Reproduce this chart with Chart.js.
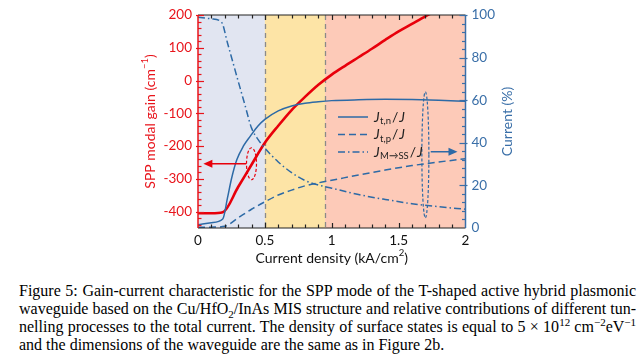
<!DOCTYPE html>
<html>
<head>
<meta charset="utf-8">
<script src="https://cdn.jsdelivr.net/npm/chart.js@4/dist/chart.umd.min.js"></script>
<style>
  body { margin: 0; background: #fff; width: 640px; height: 362px; overflow: hidden; position: relative; }
  #wrap { position: absolute; left: 0; top: 0; width: 640px; height: 270px; }
  #caption { position: absolute; left: 19px; top: 282px; width: 617px; font-family: "Liberation Serif", serif; font-size: 16px; line-height: 18px; color: #000; }
  #caption div { text-align: justify; text-align-last: justify; }
  #caption div.last { text-align-last: left; }
  #caption sub, #caption sup { font-size: 11px; line-height: 0; }
</style>
</head>
<body>
<div id="wrap"><canvas id="chart" width="640" height="270"></canvas></div>
<div id="caption">
  <div>Figure 5: Gain-current characteristic for the SPP mode of the T-shaped active hybrid plasmonic</div>
  <div>waveguide based on the Cu/HfO<sub>2</sub>/InAs MIS structure and relative contributions of different tun-</div>
  <div>nelling processes to the total current. The density of surface states is equal to 5 &times; 10<sup>12</sup> cm<sup>&minus;2</sup>eV<sup>&minus;1</sup></div>
  <div class="last">and the dimensions of the waveguide are the same as in Figure 2b.</div>
</div>
<script>
// SPP modal gain (cm^-1) vs current density (kA/cm^2)
const gainX = [0, 0.1, 0.185, 0.3, 0.4, 0.5, 0.6, 0.7, 0.8, 0.9, 1.0, 1.1, 1.2, 1.3, 1.4, 1.5, 1.6, 1.7, 1.8, 1.9, 2.0];
const gainY = [-405, -405, -402, -325, -257, -190, -138, -90, -50, -13, 18, 45, 71, 97, 124, 150, 173, 196, 217, 237, 256];

// relative current contributions (%)
const tnX = [0, 0.1, 0.185, 0.22, 0.25, 0.29, 0.34, 0.39, 0.45, 0.5, 0.6, 0.7, 0.8, 0.9, 1.0, 1.2, 1.4, 1.6, 1.8, 2.0];
const tnY = [1.5, 2.5, 4.2, 14, 23, 32, 38.5, 43, 48, 51, 55, 57.3, 58.6, 59.3, 59.8, 60.2, 60.4, 60.3, 60, 59.5];

const tpX = [0, 0.1, 0.2, 0.3, 0.4, 0.5, 0.6, 0.7, 0.8, 0.9, 1.0, 1.2, 1.4, 1.6, 1.8, 2.0];
const tpY = [0.3, 0.4, 0.8, 4.8, 8.8, 12.3, 15.5, 17.8, 19.8, 21.2, 22.4, 24.9, 27.2, 29.3, 31, 32.5];

const ssX = [0, 0.1, 0.177, 0.22, 0.26, 0.3, 0.35, 0.4, 0.45, 0.5, 0.6, 0.7, 0.8, 0.9, 1.0, 1.2, 1.4, 1.6, 1.8, 2.0];
const ssY = [99, 98.2, 96.5, 87, 78, 69, 58, 47, 41.5, 37.5, 31, 26, 22.3, 20.2, 18.7, 15.7, 13.4, 11.4, 10, 8.8];

const xTicks = [0, 0.5, 1, 1.5, 2];
const gainTicks = [200, 100, 0, -100, -200, -300, -400];
const currentTicks = [0, 20, 40, 60, 80, 100];

// shaded regimes along current density
const bandEdges = [0, 0.5, 0.95, 2];
const bandColors = ['#e1e5f1', '#fde4a6', '#fdcab8'];

const RED = '#e8000b';
const RED_AX = '#e8141b';
const BLUE = '#2d6aa6';
const BLUE_AX = '#3a6fa8';
const FONT = 'Lato';

const pts = (xs, ys) => xs.map((x, i) => ({ x, y: ys[i] }));

function drawRich(ctx, parts, cx, cy, rot, color) {
  ctx.save();
  ctx.translate(cx, cy);
  if (rot) ctx.rotate(rot);
  ctx.fillStyle = color;
  ctx.textBaseline = 'middle';
  ctx.textAlign = 'left';
  let w = 0;
  parts.forEach(p => {
    ctx.font = p.sup ? `9.5px ${FONT}` : `14px ${FONT}`;
    w += ctx.measureText(p.t).width;
  });
  let x = -w / 2;
  parts.forEach(p => {
    ctx.font = p.sup ? `9.5px ${FONT}` : `14px ${FONT}`;
    ctx.fillText(p.t, x, p.sup ? -5 : 0);
    x += ctx.measureText(p.t).width;
  });
  ctx.restore();
}

function legendLabel(ctx, sub, x, y) {
  ctx.fillStyle = '#222';
  ctx.textBaseline = 'middle';
  ctx.textAlign = 'left';
  ctx.font = `italic 14px ${FONT}`;
  ctx.fillText('J', x, y);
  x += ctx.measureText('J').width + 0.5;
  ctx.font = `9.5px ${FONT}`;
  ctx.fillText(sub, x, y + 4);
  x += ctx.measureText(sub).width + 1;
  ctx.font = `14px ${FONT}`;
  ctx.fillText('/', x, y);
  x += ctx.measureText('/').width + 1;
  ctx.font = `italic 14px ${FONT}`;
  ctx.fillText('J', x, y);
}

function arrow(ctx, x0, y, x1, color) {
  const dir = Math.sign(x1 - x0);
  ctx.strokeStyle = color; ctx.fillStyle = color;
  ctx.lineWidth = 1.5; ctx.setLineDash([]);
  ctx.beginPath(); ctx.moveTo(x0, y); ctx.lineTo(x1 - dir * 7, y); ctx.stroke();
  ctx.beginPath(); ctx.moveTo(x1, y); ctx.lineTo(x1 - dir * 9, y - 4); ctx.lineTo(x1 - dir * 9, y + 4); ctx.closePath(); ctx.fill();
}

const decor = {
  id: 'decor',
  beforeDatasetsDraw(chart) {
    const { ctx, chartArea: a, scales: { x } } = chart;
    ctx.save();
    for (let i = 0; i < bandColors.length; i++) {
      const x0 = x.getPixelForValue(bandEdges[i]);
      const x1 = x.getPixelForValue(bandEdges[i + 1]);
      ctx.fillStyle = bandColors[i];
      ctx.fillRect(x0, a.top, x1 - x0, a.bottom - a.top);
    }
    ctx.strokeStyle = '#8a8a8a';
    ctx.lineWidth = 1.3;
    ctx.setLineDash([5, 4]);
    bandEdges.slice(1, -1).forEach(v => {
      const px = Math.round(x.getPixelForValue(v)) + 0.5;
      ctx.beginPath(); ctx.moveTo(px, a.top); ctx.lineTo(px, a.bottom); ctx.stroke();
    });
    ctx.restore();
  },
  afterDatasetsDraw(chart) {
    const { ctx, chartArea: a, scales: { x, yG, yC } } = chart;
    ctx.save();
    ctx.setLineDash([]);

    // frame
    ctx.lineWidth = 1.2;
    ctx.strokeStyle = '#222';
    ctx.beginPath(); ctx.moveTo(a.left, a.top); ctx.lineTo(a.right, a.top); ctx.stroke();
    ctx.beginPath(); ctx.moveTo(a.left, a.bottom); ctx.lineTo(a.right, a.bottom); ctx.stroke();
    ctx.lineWidth = 1.5;
    ctx.strokeStyle = RED_AX;
    ctx.beginPath(); ctx.moveTo(a.left, a.top); ctx.lineTo(a.left, a.bottom); ctx.stroke();
    ctx.strokeStyle = BLUE_AX;
    ctx.beginPath(); ctx.moveTo(a.right, a.top); ctx.lineTo(a.right, a.bottom); ctx.stroke();

    // inward ticks
    ctx.lineWidth = 1.2;
    ctx.strokeStyle = '#222';
    for (let i = 1; i < 20; i++) {
      const px = Math.round(x.getPixelForValue(i / 10)) + 0.5;
      const len = i % 5 === 0 ? 5 : 3.5;
      ctx.beginPath(); ctx.moveTo(px, a.bottom); ctx.lineTo(px, a.bottom - len); ctx.stroke();
      ctx.beginPath(); ctx.moveTo(px, a.top); ctx.lineTo(px, a.top + len); ctx.stroke();
    }
    ctx.strokeStyle = RED_AX;
    for (let v = -440; v <= 200; v += 20) {
      const py = Math.round(yG.getPixelForValue(v)) + 0.5;
      const len = v % 100 === 0 ? 6 : 3.5;
      ctx.beginPath(); ctx.moveTo(a.left - (v % 100 === 0 ? 2 : 0), py); ctx.lineTo(a.left + len, py); ctx.stroke();
    }
    ctx.strokeStyle = BLUE_AX;
    for (let v = 4; v <= 100; v += 4) {
      const py = Math.round(yC.getPixelForValue(v)) + 0.5;
      const len = v % 20 === 0 ? 6 : 3.5;
      ctx.beginPath(); ctx.moveTo(a.right + (v % 20 === 0 ? 2 : 0), py); ctx.lineTo(a.right - len, py); ctx.stroke();
    }

    // red annotation: ellipse + arrow pointing to gain axis
    ctx.lineWidth = 1.2;
    ctx.strokeStyle = RED;
    ctx.setLineDash([3, 2]);
    const rx = x.getPixelForValue(0.40), ry = yG.getPixelForValue(-254);
    ctx.beginPath(); ctx.ellipse(rx, ry, 5, 16, 0, 0, Math.PI * 2); ctx.stroke();
    arrow(ctx, x.getPixelForValue(0.36), ry, x.getPixelForValue(0.04), RED);

    // blue annotation: ellipse + arrow pointing to current axis
    ctx.lineWidth = 1.2;
    ctx.strokeStyle = BLUE;
    ctx.setLineDash([3, 2]);
    const bx = x.getPixelForValue(1.70), by = yC.getPixelForValue(34.3);
    ctx.beginPath(); ctx.ellipse(bx, by, 3.5, 63, 0, 0, Math.PI * 2); ctx.stroke();
    arrow(ctx, x.getPixelForValue(1.74), yC.getPixelForValue(35.8), x.getPixelForValue(1.94), BLUE);

    // legend
    const lx0 = 338, lx1 = 368;
    const rows = [
      { y: 117, dash: [], sub: 't,n' },
      { y: 134.5, dash: [7, 4], sub: 't,p' },
      { y: 152, dash: [7, 3, 1.5, 3], sub: 'M\u2192SS' }
    ];
    rows.forEach(r => {
      ctx.strokeStyle = BLUE;
      ctx.lineWidth = 1.5;
      ctx.setLineDash(r.dash);
      ctx.beginPath(); ctx.moveTo(lx0, r.y); ctx.lineTo(lx1, r.y); ctx.stroke();
      ctx.setLineDash([]);
      legendLabel(ctx, r.sub, 374, r.y);
    });

    // axis titles
    const midY = (a.top + a.bottom) / 2;
    drawRich(ctx, [{ t: 'SPP modal gain (cm' }, { t: '\u22121', sup: true }, { t: ')' }], 150, midY, -Math.PI / 2, RED_AX);
    drawRich(ctx, [{ t: 'Current (%)' }], 507, midY, -Math.PI / 2, BLUE_AX);
    drawRich(ctx, [{ t: 'Current density (kA/cm' }, { t: '2', sup: true }, { t: ')' }], (a.left + a.right) / 2, 258, 0, '#111');
    ctx.restore();
  }
};

const tickFont = { family: FONT, size: 13.5 };

new Chart(document.getElementById('chart'), {
  type: 'line',
  data: {
    datasets: [
      { data: pts(tpX, tpY), yAxisID: 'yC', borderColor: BLUE, borderWidth: 1.5, borderDash: [7, 4] },
      { data: pts(ssX, ssY), yAxisID: 'yC', borderColor: BLUE, borderWidth: 1.5, borderDash: [7, 3, 1.5, 3] },
      { data: pts(tnX, tnY), yAxisID: 'yC', borderColor: BLUE, borderWidth: 1.5 },
      { data: pts(gainX, gainY), yAxisID: 'yG', borderColor: RED, borderWidth: 2.6 }
    ]
  },
  options: {
    responsive: false,
    animation: false,
    devicePixelRatio: 1,
    layout: { padding: { top: 15, left: 0, right: 0, bottom: 0 } },
    elements: { point: { radius: 0 }, line: { cubicInterpolationMode: 'monotone', fill: false } },
    plugins: { legend: { display: false }, tooltip: { enabled: false } },
    scales: {
      x: {
        type: 'linear', position: 'bottom', min: 0, max: 2,
        afterBuildTicks: s => { s.ticks = xTicks.map(v => ({ value: v })); },
        ticks: { color: '#111', font: tickFont, padding: 5, maxRotation: 0, callback: v => String(v) },
        grid: { display: false, drawTicks: false },
        border: { display: false },
        afterFit: s => { s.height = 42; }
      },
      yG: {
        type: 'linear', position: 'left', min: -450, max: 200,
        afterBuildTicks: s => { s.ticks = gainTicks.map(v => ({ value: v })); },
        ticks: { color: RED_AX, font: tickFont, padding: 6 },
        grid: { display: false, drawTicks: false },
        border: { display: false },
        afterFit: s => { s.width = 198; }
      },
      yC: {
        type: 'linear', position: 'right', min: 0, max: 100,
        afterBuildTicks: s => { s.ticks = currentTicks.map(v => ({ value: v })); },
        ticks: { color: BLUE_AX, font: tickFont, padding: 6 },
        grid: { display: false, drawTicks: false },
        border: { display: false },
        afterFit: s => { s.width = 174.5; }
      }
    }
  },
  plugins: [decor]
});
</script>
</body>
</html>
